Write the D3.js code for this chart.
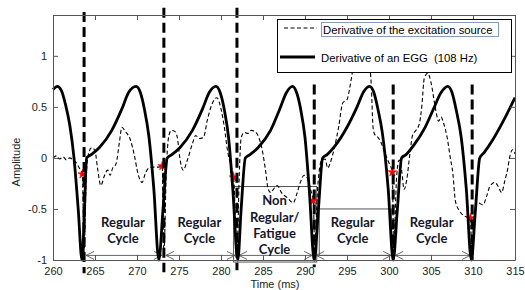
<!DOCTYPE html>
<html>
<head>
<meta charset="utf-8">
<script src="https://cdn.jsdelivr.net/npm/d3@7"></script>
<style>
body{margin:0;background:#fff;}
svg{display:block;font-family:"Liberation Sans",Arial,sans-serif;}
.axis path,.axis line{stroke:#555;stroke-width:1;}
.axis text{font-family:"Liberation Sans",Arial,sans-serif;font-size:11px;fill:#222;}
.egg-line{fill:none;stroke:#000;stroke-width:2.8;stroke-linejoin:round;}
.exc-line{fill:none;stroke:#000;stroke-width:1.1;stroke-dasharray:4,2.5;}
.gci-line{stroke:#000;stroke-width:3;stroke-dasharray:10,5;}
.box{fill:none;stroke:#555;stroke-width:1;}
.arrow{fill:none;stroke:#555;stroke-width:0.9;}
.cycle-tag{font-family:Lato,"Open Sans",sans-serif;font-weight:bold;font-size:13px;fill:#15152a;text-anchor:middle;}
.legend-box{fill:#fff;stroke:#000;stroke-width:1;}
.legend-tag{font-size:11.3px;fill:#000;white-space:pre;}
.axis-tag{font-size:11px;fill:#222;text-anchor:middle;}
</style>
</head>
<body>
<div id="chart"></div>
<script>
// EGG derivative (solid)
const t_egg = [260.0,260.5,261.0,261.5,262.0,262.5,263.0,263.45,263.75,264.0,264.5,265.5,267.0,268.2,269.0,269.9,270.4,270.9,271.4,272.0,272.6,
  273.1,273.6,274.1,275.1,276.6,277.8,278.6,279.4,279.9,280.4,280.9,281.4,282.0,
  282.4,282.9,283.4,284.4,285.9,287.0,287.8,288.5,289.0,289.5,290.0,290.5,291.1,
  291.6,292.1,292.6,293.6,295.0,296.2,297.0,297.7,298.2,298.7,299.2,299.9,300.5,
  301.0,301.5,302.0,303.0,304.3,305.3,306.2,307.0,307.5,308.0,308.6,309.2,309.8,
  310.3,310.8,311.3,312.3,313.6,315.0];
const v_egg = [0.67,0.70,0.66,0.52,0.32,0.00,-0.50,-1.00,-0.50,0.00,0.03,0.10,0.27,0.48,0.64,0.70,0.64,0.47,0.22,-0.30,-1.00,
  -0.50,0.00,0.03,0.10,0.27,0.48,0.64,0.70,0.64,0.47,0.20,-0.30,-1.00,
  -0.50,0.00,0.03,0.10,0.27,0.48,0.64,0.70,0.64,0.47,0.20,-0.30,-1.00,
  -0.50,0.00,0.03,0.12,0.30,0.50,0.65,0.70,0.64,0.47,0.25,-0.30,-1.00,
  -0.50,0.00,0.03,0.13,0.30,0.48,0.64,0.70,0.64,0.47,0.20,-0.30,-1.00,
  -0.50,0.00,0.05,0.17,0.36,0.59];

// derivative of the excitation source (dashed)
const t_exc = [260.0,260.4,260.8,261.2,261.6,262.0,262.4,262.8,263.2,263.5,263.7,263.95,264.2,264.6,265.0,265.3,265.7,266.1,266.5,266.8,267.1,267.5,267.9,268.2,268.6,269.2,269.7,270.1,270.6,271.0,271.4,272.0,272.6,273.0,
  273.2,273.5,273.8,274.1,274.5,274.8,275.1,275.5,276.0,276.6,277.0,277.4,277.9,278.4,278.9,279.5,280.0,280.4,280.8,281.2,281.5,
  281.9,282.2,282.4,282.8,283.2,283.6,284.0,284.5,284.9,285.3,285.6,285.9,286.3,286.7,287.2,287.9,288.6,289.0,289.4,289.9,290.3,290.7,291.0,
  291.15,291.5,292.0,292.4,292.7,293.0,293.5,294.0,294.5,295.0,295.4,295.8,296.3,297.0,297.6,297.9,298.1,298.3,298.6,299.0,299.5,300.0,300.4,
  300.55,300.9,301.2,301.5,301.8,302.1,302.5,302.8,303.2,303.6,303.9,304.2,304.6,305.0,305.5,305.9,306.2,306.5,306.9,307.3,307.6,307.9,308.4,308.8,309.3,309.7,
  309.85,310.2,310.6,311.2,311.6,312.0,312.6,313.0,313.4,313.8,314.1,314.4,314.7,315.0];
const v_exc = [0.00,0.02,-0.01,0.01,-0.02,0.00,-0.02,-0.05,-0.11,-0.16,-0.92,-0.20,0.03,0.10,0.07,-0.10,-0.27,-0.18,-0.12,-0.17,-0.10,-0.06,0.15,0.30,0.26,0.18,0.02,-0.15,-0.24,-0.15,-0.10,-0.09,-0.09,-0.08,
  -0.92,-0.10,0.22,0.27,0.26,0.20,0.00,-0.12,-0.02,0.14,0.22,0.19,0.20,0.38,0.52,0.59,0.48,0.30,0.06,-0.08,-0.19,
  -0.92,-0.10,0.20,0.25,0.24,0.27,0.26,0.20,0.08,-0.12,-0.30,-0.34,-0.30,-0.27,-0.34,-0.39,-0.44,-0.36,-0.25,-0.17,-0.20,-0.32,-0.42,
  -0.92,-0.30,-0.02,-0.01,-0.10,-0.05,0.10,0.30,0.54,0.57,0.72,0.92,1.05,1.08,0.95,0.70,0.30,0.23,0.21,0.16,0.05,-0.05,-0.14,
  -0.92,-0.20,-0.02,-0.12,-0.31,-0.22,0.05,0.22,0.27,0.33,0.50,0.78,0.83,0.74,0.50,0.36,0.40,0.34,0.21,0.00,-0.15,-0.42,-0.52,-0.56,-0.58,-0.59,
  -0.92,-0.50,-0.44,-0.46,-0.38,-0.28,-0.24,-0.28,-0.34,-0.22,-0.12,0.02,0.08,0.04];

// glottal closure instants (thick dashed verticals)
const gci = [263.7, 273.2, 281.9, 291.1, 300.5, 309.9];
const gci_top = [1.43, 1.47, 1.47, 0.72, 0.72, 0.72];
const gci_bottom = [-1.13, -1.12, -1.10, -1.07, -1.00, -1.00];

// red star markers
const star_t = [263.5, 273.0, 281.5, 291.0, 300.4, 309.7];
const star_v = [-0.16, -0.08, -0.19, -0.42, -0.14, -0.59];

// cycle annotations
const cycle_names = [["Regular","Cycle"],["Regular","Cycle"],["Non","Regular/","Fatigue","Cycle"],["Regular","Cycle"],["Regular","Cycle"]];
const cycle_tag_top = [-0.63, -0.63, -0.42, -0.63, -0.63];
const arrow_level = -0.955;
const box_t0 = [281.5, 291.7];
const box_t1 = [291.4, 300.3];
const box_top = [-0.28, -0.50];
const box_bottom = [-1.02, -0.955];

const x_ticks = [260,265,270,275,280,285,290,295,300,305,310,315];
const y_ticks = [-1,-0.5,0,0.5,1];
const legend_names = ["Derivative of the excitation source", "Derivative of an EGG  (108 Hz)"];

let total_width = 525, total_height = 290;
let m_left = 53, m_right = 515, m_top = 15, m_bottom = 260;

var x = d3.scaleLinear().domain([260,315]).range([m_left,m_right]);
var y = d3.scaleLinear().domain([-1,1.4]).range([m_bottom,m_top]);

var svg = d3.select("#chart").append("svg")
    .attr("width", total_width)
    .attr("height", total_height);

// annotation boxes
svg.append("g").selectAll("rect").data(box_t0).enter().append("rect")
    .attr("class","box")
    .attr("x",(d)=>x(d))
    .attr("y",(d,i)=>y(box_top[i]))
    .attr("width",(d,i)=>x(box_t1[i])-x(d))
    .attr("height",(d,i)=>y(box_bottom[i])-y(box_top[i]));

// double arrows between consecutive closures
let arrows = svg.append("g");
for(let i=0;i<gci.length-1;i++){
  let x0 = x(gci[i])+2, x1 = x(gci[i+1])-2, ya = y(arrow_level);
  arrows.append("line").attr("class","arrow")
    .attr("x1",x0).attr("y1",ya).attr("x2",x1).attr("y2",ya);
  arrows.append("path").attr("class","arrow")
    .attr("d","M"+(x0+8)+","+(ya-4)+"L"+x0+","+ya+"L"+(x0+8)+","+(ya+4));
  arrows.append("path").attr("class","arrow")
    .attr("d","M"+(x1-8)+","+(ya-4)+"L"+x1+","+ya+"L"+(x1-8)+","+(ya+4));
}

// cycle labels
cycle_names.forEach(function(lines,i){
  let cx = (x(gci[i])+x(gci[i+1]))/2 - 1;
  let t = svg.append("text").attr("class","cycle-tag")
    .attr("x",cx).attr("y",y(cycle_tag_top[i]));
  lines.forEach(function(l,j){
    t.append("tspan").attr("x",cx).attr("dy", j===0?"0.35em":"16.3").text(l);
  });
});

let exc_line = d3.line()
    .x((d,i)=>x(t_exc[i]))
    .y((d)=>y(d))
    .curve(d3.curveMonotoneX);
let egg_line = d3.line()
    .x((d,i)=>x(t_egg[i]))
    .y((d)=>y(d))
    .curve(d3.curveMonotoneX);

svg.append("path").datum(v_exc).attr("class","exc-line").attr("d",exc_line);

svg.append("g").selectAll("path").data(star_t).enter().append("path")
    .attr("transform",(d,i)=>"translate("+x(d)+","+y(star_v[i])+")")
    .attr("d",d3.symbol().type(d3.symbolStar).size(24))
    .attr("fill","#ff0000")
    .attr("stroke","#ff0000")
    .attr("stroke-width",0.6);

svg.append("path").datum(v_egg).attr("class","egg-line").attr("d",egg_line);

svg.append("g").selectAll("line").data(gci).enter().append("line")
    .attr("class","gci-line")
    .attr("x1",(d)=>x(d)).attr("x2",(d)=>x(d))
    .attr("y1",(d,i)=>y(gci_top[i]))
    .attr("y2",(d,i)=>y(gci_bottom[i]));

// axes (ticks inward, box all round)
svg.append("g").attr("class","axis")
    .attr("transform","translate(0,"+m_bottom+")")
    .call(d3.axisBottom(x).tickValues(x_ticks).tickSize(-5).tickSizeOuter(0).tickPadding(7).tickFormat((d)=>String(d)));
svg.append("g").attr("class","axis")
    .attr("transform","translate(0,"+m_top+")")
    .call(d3.axisTop(x).tickValues(x_ticks).tickSize(-5).tickSizeOuter(0).tickFormat(""));
svg.append("g").attr("class","axis")
    .attr("transform","translate("+m_left+",0)")
    .call(d3.axisLeft(y).tickValues(y_ticks).tickSize(-5).tickSizeOuter(0).tickPadding(6).tickFormat((d)=>String(d)));
svg.append("g").attr("class","axis")
    .attr("transform","translate("+m_right+",0)")
    .call(d3.axisRight(y).tickValues(y_ticks).tickSize(-5).tickSizeOuter(0).tickFormat(""));
svg.selectAll(".axis").attr("font-family",null).attr("font-size",null);

svg.append("text").attr("class","axis-tag")
    .attr("x",275).attr("y",288).text("Time (ms)");
svg.append("text").attr("class","axis-tag")
    .attr("transform","translate(20,162) rotate(-90)")
    .text("Amplitude");

// legend
let lg = svg.append("g");
lg.append("rect").attr("class","legend-box")
    .attr("x",277.5).attr("y",19.5).attr("width",234).attr("height",53);
lg.append("line").attr("class","exc-line")
    .attr("x1",284).attr("x2",317).attr("y1",28).attr("y2",28);
lg.append("line").attr("class","egg-line")
    .attr("x1",280).attr("x2",315).attr("y1",57).attr("y2",57);
lg.append("rect")
    .attr("x",321.5).attr("y",22.5).attr("width",177).attr("height",14)
    .attr("fill","none").attr("stroke","#7b9bd8").attr("stroke-width",1);
lg.selectAll("text.legend-tag").data(legend_names).enter().append("text")
    .attr("class","legend-tag")
    .attr("xml:space","preserve")
    .attr("x",(d,i)=>i===0?323:321)
    .attr("y",(d,i)=>i===0?34:62)
    .text((d)=>d);
</script>
</body>
</html>
